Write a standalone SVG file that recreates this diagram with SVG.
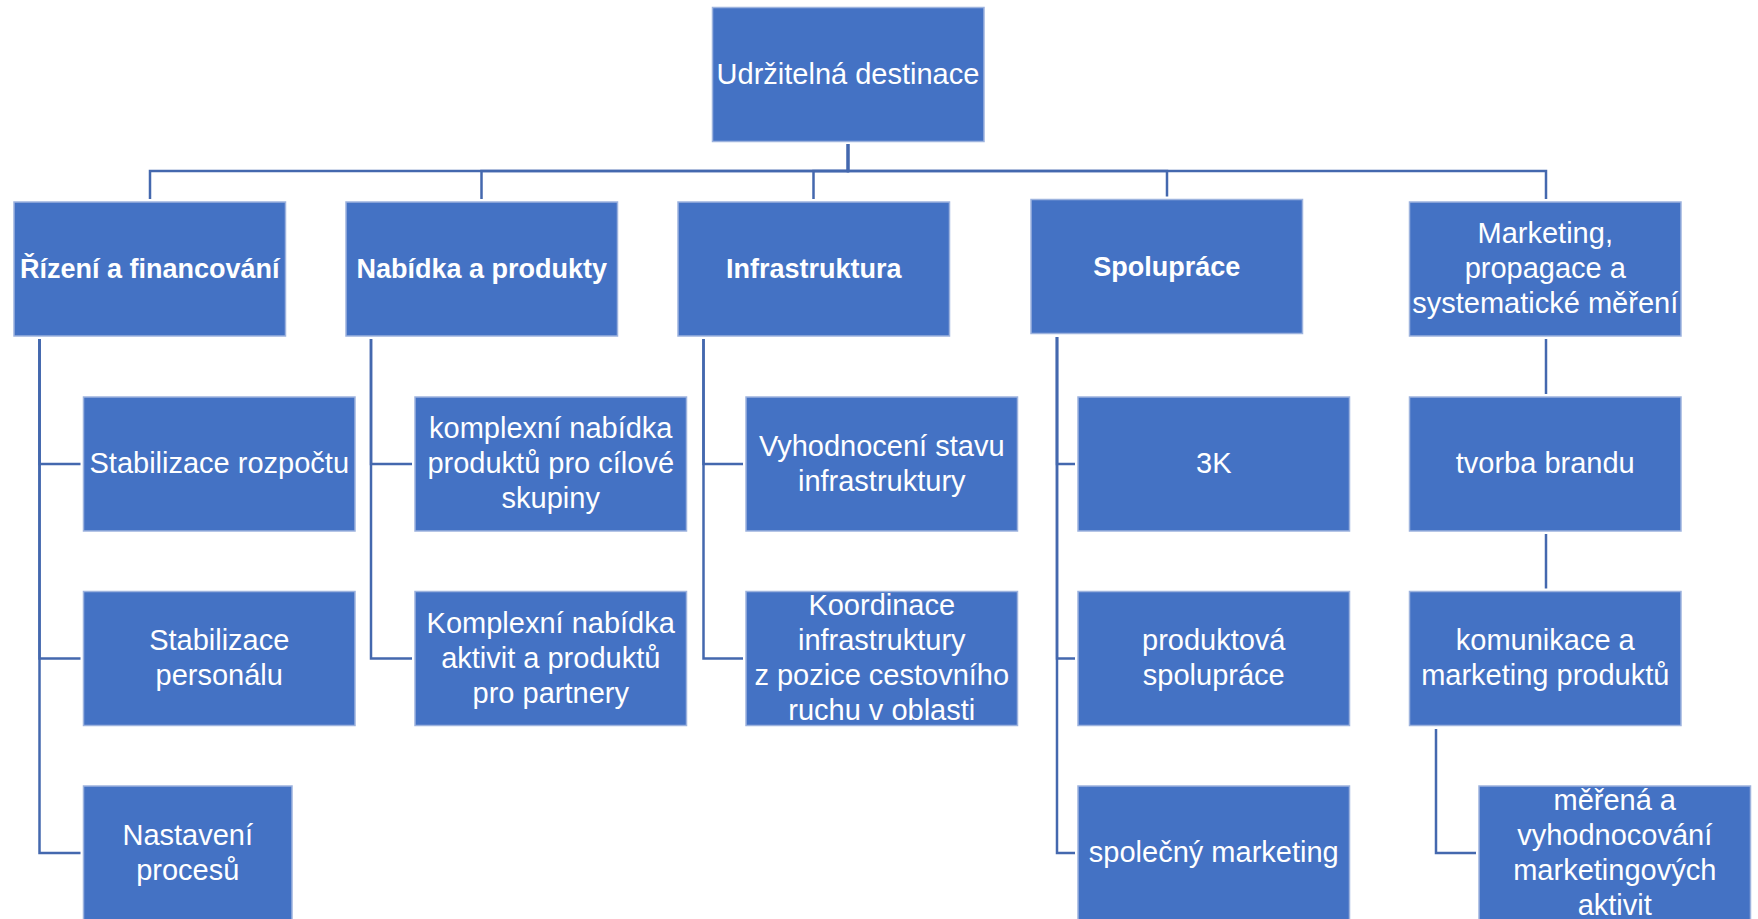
<svg xmlns="http://www.w3.org/2000/svg" width="1758" height="919" viewBox="0 0 1758 919">
<style>
.box{fill:#4472C4;stroke:#9DB3DE;stroke-width:1.5}
.t{font-family:"Liberation Sans",Arial,sans-serif;font-size:29px;fill:#FFFFFF;text-anchor:middle}
.b{font-weight:bold;font-size:27px}
.c{fill:none;stroke:#4468AE;stroke-width:2.5}
</style>
<rect width="1758" height="919" fill="#FFFFFF"/>
<g id="connectors">
<path class="c" d="M848 144 V171 H150 V199"/>
<path class="c" d="M848 144 V171 H481.5 V199"/>
<path class="c" d="M848 144 V171 H813.5 V199"/>
<path class="c" d="M848 144 V171 H1167 V196.5"/>
<path class="c" d="M848 144 V171 H1546 V199"/>
<path class="c" d="M39.5 339 V464 H80.5"/>
<path class="c" d="M39.5 339 V658.5 H80.5"/>
<path class="c" d="M39.5 339 V853 H80.5"/>
<path class="c" d="M371 339 V464 H412"/>
<path class="c" d="M371 339 V658.5 H412"/>
<path class="c" d="M703.5 339 V464 H743"/>
<path class="c" d="M703.5 339 V658.5 H743"/>
<path class="c" d="M1057 337 V464 H1075"/>
<path class="c" d="M1057 337 V658.5 H1075"/>
<path class="c" d="M1057 337 V853 H1075"/>
<path class="c" d="M1546 339 V394"/>
<path class="c" d="M1546 534 V588.5"/>
<path class="c" d="M1436 729 V853 H1476"/>
</g>
<g id="root">
<rect class="box" x="712.5" y="7.5" width="271.5" height="134"/>
<text class="t" x="848" y="84">Udržitelná destinace</text>
</g>
<g id="rizeni">
<rect class="box" x="14" y="202" width="271.5" height="134"/>
<text class="t b" x="149.75" y="278">Řízení a financování</text>
</g>
<g id="nabidka">
<rect class="box" x="346" y="202" width="271.5" height="134"/>
<text class="t b" x="481.75" y="278">Nabídka a produkty</text>
</g>
<g id="infrastruktura">
<rect class="box" x="678" y="202" width="271.5" height="134"/>
<text class="t b" x="813.75" y="278">Infrastruktura</text>
</g>
<g id="spoluprace">
<rect class="box" x="1031" y="199.5" width="271.5" height="134"/>
<text class="t b" x="1166.75" y="275.5">Spolupráce</text>
</g>
<g id="marketing">
<rect class="box" x="1409.5" y="202" width="271.5" height="134"/>
<text class="t" x="1545.25" y="243">Marketing,</text>
<text class="t" x="1545.25" y="278">propagace a</text>
<text class="t" x="1545.25" y="313">systematické měření</text>
</g>
<g id="stabilizace-rozpoctu">
<rect class="box" x="83.5" y="397" width="271.5" height="134"/>
<text class="t" x="219.25" y="473">Stabilizace rozpočtu</text>
</g>
<g id="stabilizace-personalu">
<rect class="box" x="83.5" y="591.5" width="271.5" height="134"/>
<text class="t" x="219.25" y="650">Stabilizace</text>
<text class="t" x="219.25" y="685">personálu</text>
</g>
<g id="nastaveni-procesu">
<rect class="box" x="83.5" y="786" width="208.5" height="134"/>
<text class="t" x="187.75" y="844.5">Nastavení</text>
<text class="t" x="187.75" y="879.5">procesů</text>
</g>
<g id="komplexni-nabidka-produktu">
<rect class="box" x="415" y="397" width="271.5" height="134"/>
<text class="t" x="550.75" y="438">komplexní nabídka</text>
<text class="t" x="550.75" y="473">produktů pro cílové</text>
<text class="t" x="550.75" y="508">skupiny</text>
</g>
<g id="komplexni-nabidka-aktivit">
<rect class="box" x="415" y="591.5" width="271.5" height="134"/>
<text class="t" x="550.75" y="632.5">Komplexní nabídka</text>
<text class="t" x="550.75" y="667.5">aktivit a produktů</text>
<text class="t" x="550.75" y="702.5">pro partnery</text>
</g>
<g id="vyhodnoceni-stavu">
<rect class="box" x="746" y="397" width="271.5" height="134"/>
<text class="t" x="881.75" y="455.5">Vyhodnocení stavu</text>
<text class="t" x="881.75" y="490.5">infrastruktury</text>
</g>
<g id="koordinace">
<rect class="box" x="746" y="591.5" width="271.5" height="134"/>
<text class="t" x="881.75" y="615">Koordinace</text>
<text class="t" x="881.75" y="650">infrastruktury</text>
<text class="t" x="881.75" y="685">z pozice cestovního</text>
<text class="t" x="881.75" y="720">ruchu v oblasti</text>
</g>
<g id="3k">
<rect class="box" x="1078" y="397" width="271.5" height="134"/>
<text class="t" x="1213.75" y="473">3K</text>
</g>
<g id="produktova-spoluprace">
<rect class="box" x="1078" y="591.5" width="271.5" height="134"/>
<text class="t" x="1213.75" y="650">produktová</text>
<text class="t" x="1213.75" y="685">spolupráce</text>
</g>
<g id="spolecny-marketing">
<rect class="box" x="1078" y="786" width="271.5" height="134"/>
<text class="t" x="1213.75" y="862">společný marketing</text>
</g>
<g id="tvorba-brandu">
<rect class="box" x="1409.5" y="397" width="271.5" height="134"/>
<text class="t" x="1545.25" y="473">tvorba brandu</text>
</g>
<g id="komunikace">
<rect class="box" x="1409.5" y="591.5" width="271.5" height="134"/>
<text class="t" x="1545.25" y="650">komunikace a</text>
<text class="t" x="1545.25" y="685">marketing produktů</text>
</g>
<g id="merena">
<rect class="box" x="1479" y="786" width="271.5" height="134"/>
<text class="t" x="1614.75" y="809.5">měřená a</text>
<text class="t" x="1614.75" y="844.5">vyhodnocování</text>
<text class="t" x="1614.75" y="879.5">marketingových</text>
<text class="t" x="1614.75" y="914.5">aktivit</text>
</g>
</svg>
